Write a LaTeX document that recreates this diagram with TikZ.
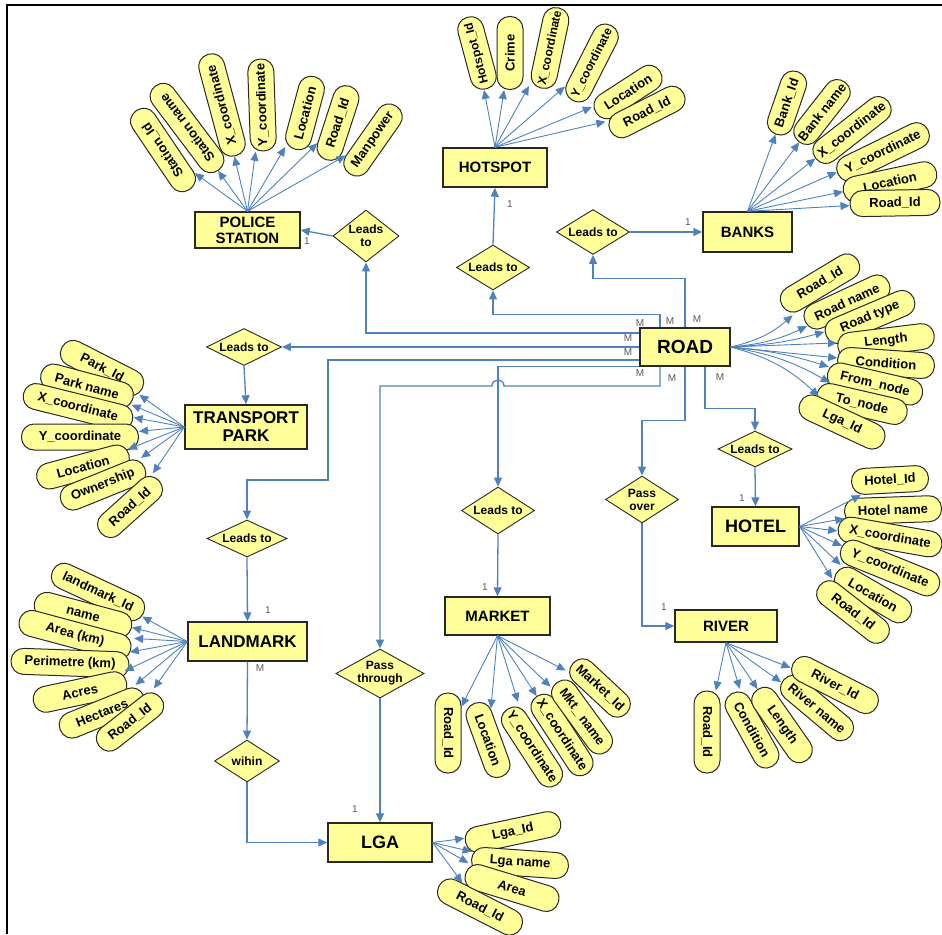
\documentclass[tikz,border=0pt]{standalone}
\usepackage{fontspec}
\setmainfont{Liberation Sans}
\usetikzlibrary{shapes.geometric,arrows.meta,calc}
\definecolor{ylw}{RGB}{255,255,153}
\definecolor{lnk}{RGB}{79,129,189}
\definecolor{bdr}{RGB}{40,40,40}
\begin{document}
\begin{tikzpicture}[x=1pt,y=-1pt,
 ent/.style={draw=bdr, fill=ylw, line width=1.4pt, inner sep=0pt, align=center, font=\bfseries\fontsize{16}{17}\selectfont},
 rel/.style={diamond, draw=bdr, fill=ylw, line width=0.9pt, inner sep=0pt, align=center, font=\bfseries\fontsize{12}{13}\selectfont},
 attr/.style={rectangle, rounded corners=12.5pt, draw=bdr, fill=ylw, line width=1pt, minimum height=26pt, inner xsep=2pt, inner ysep=0pt, font=\bfseries\fontsize{13}{14}\selectfont},
 sm/.style={font=\bfseries\fontsize{12}{13}\selectfont},
 conn/.style={draw=lnk, line width=1.3pt, -{Triangle[length=9pt,width=8pt]}},
 aconn/.style={draw=lnk, line width=0.9pt, -{Triangle[length=9pt,width=8pt]}},
 card/.style={text=black!65, font=\fontsize{10}{10}\selectfont, inner sep=0pt},
]
\useasboundingbox (0,0) rectangle (942,934);
\draw[line width=1.2pt] (7,934) -- (7,5) -- (942,5);

% entities
\node[ent, minimum width=90pt, minimum height=38pt, font=\bfseries\fontsize{19}{20}\selectfont] (road) at (685,347) {ROAD};
\node[ent, minimum width=105pt, minimum height=36pt, font=\bfseries\fontsize{15}{16}\selectfont] (ps) at (247.5,230) {POLICE\\STATION};
\node[ent, minimum width=104pt, minimum height=39pt, font=\bfseries\fontsize{15}{16}\selectfont] (hs) at (495,167.5) {HOTSPOT};
\node[ent, minimum width=89pt, minimum height=40pt, font=\bfseries\fontsize{15}{16}\selectfont] (bk) at (747.5,232) {BANKS};
\node[ent, minimum width=122pt, minimum height=44pt, font=\bfseries\fontsize{17}{18}\selectfont] (tp) at (246,427) {TRANSPORT\\PARK};
\node[ent, minimum width=119pt, minimum height=39pt, font=\bfseries\fontsize{17}{18}\selectfont] (lm) at (247.5,641.5) {LANDMARK};
\node[ent, minimum width=105pt, minimum height=38pt, font=\bfseries\fontsize{15}{16}\selectfont] (mk) at (497.5,616) {MARKET};
\node[ent, minimum width=102pt, minimum height=32pt, font=\bfseries\fontsize{15}{16}\selectfont] (rv) at (726,626) {RIVER};
\node[ent, minimum width=87pt, minimum height=39pt, font=\bfseries\fontsize{18}{19}\selectfont] (ht) at (755.5,526.5) {HOTEL};
\node[ent, minimum width=104pt, minimum height=39pt, font=\bfseries\fontsize{18}{19}\selectfont] (lga) at (380,842.5) {LGA};

% relationships
\node[rel, minimum width=66pt, minimum height=52pt, shape aspect=1.3] (dps) at (366,236) {Leads\\to};
\node[rel, minimum width=73pt, minimum height=45pt, shape aspect=2] (dhs) at (493,267.5) {Leads to};
\node[rel, minimum width=73pt, minimum height=45pt, shape aspect=2] (dbk) at (593,232) {Leads to};
\node[rel, minimum width=75pt, minimum height=37pt, shape aspect=2] (dtp) at (244,347) {Leads to};
\node[rel, minimum width=80pt, minimum height=37pt, shape aspect=2] (dlm) at (247,538.5) {Leads to};
\node[rel, minimum width=65pt, minimum height=42pt, shape aspect=1.5] (dwi) at (247,761) {wihin};
\node[rel, minimum width=87pt, minimum height=49pt, shape aspect=1.8] (dpt) at (380,673.5) {Pass\\through};
\node[rel, minimum width=73pt, minimum height=47pt, shape aspect=2] (dmk) at (498,510.5) {Leads to};
\node[rel, minimum width=73pt, minimum height=47pt, shape aspect=1.55] (dpo) at (642,499.5) {Pass\\over};
\node[rel, minimum width=74pt, minimum height=36pt, shape aspect=2] (dht) at (755,449) {Leads to};

% connectors from ROAD
\draw[conn] ([yshift=14pt]road.west) -| (dps.south);
\draw[conn] (dps.west) -- (ps.east);
\draw[conn] ([xshift=-25pt]road.north) -- ++(0,-13) -| (dhs.south);
\draw[conn] (dhs.north) -- (hs.south);
\draw[conn] (road.north) -- ++(0,-49) -| (dbk.south);
\draw[conn] (dbk.east) -- (bk.west);
\draw[conn] (road.west) -- (dtp.east);
\draw[conn] (dtp.south) -- (tp.north);
\draw[conn] ([yshift=-13pt]road.west) -| (328,480) -| (dlm.north);
\draw[conn] (dlm.south) -- (lm.north);
\draw[conn] (lm.south) -- (dwi.north);
\draw[conn] (dwi.south) |- (lga.west);
\draw[conn] (road.south west) -| (dmk.north);
\draw[conn] (dmk.south) -- (mk.north);
\draw[conn] ([xshift=-25pt]road.south) |- (504,386) .. controls (504,378) and (492,378) .. (492,386) -- (380,386) -- (dpt.north);
\draw[conn] (dpt.south) -- (lga.north);
\draw[conn] ([xshift=20pt]road.south) -- ++(0,42) -| (dht.north);
\draw[conn] (dht.south) -- (ht.north);
\draw[conn] (road.south) -- ++(0,54) -| (dpo.north);
\draw[conn] (dpo.south) |- (rv.west);

% cardinalities
\node[card] (c1) at (307,241) {1};
\node[card] (c2) at (510,204) {1};
\node[card] (c3) at (688,222) {1};
\node[card] (c4) at (268,610) {1};
\node[card] (c5) at (260,668) {M};
\node[card] (c6) at (485,587) {1};
\node[card] (c7) at (355,809) {1};
\node[card] (c8) at (742,498) {1};
\node[card] (c9) at (664,607) {1};
\node[card] (m1) at (640,323) {M};
\node[card] (m2) at (670,321) {M};
\node[card] (m3) at (697,319) {M};
\node[card] (m4) at (628,338) {M};
\node[card] (m5) at (628,352) {M};
\node[card] (m6) at (640,373) {M};
\node[card] (m7) at (672,378) {M};
\node[card] (m8) at (720,377) {M};

% police station attributes
\node[attr, minimum width=95pt, rotate=124] (ps1) at (163,150) {Station\_Id};
\node[attr, minimum width=105pt, rotate=127] (ps2) at (187,128) {Station name};
\node[attr, minimum width=105pt, rotate=105] (ps3) at (222,105) {X\_coordinate};
\node[attr, minimum width=92pt, rotate=92] (ps4) at (262,105) {Y\_coordinate};
\node[attr, minimum width=75pt, rotate=75] (ps5) at (305,113) {Location};
\node[attr, minimum width=77pt, rotate=72] (ps6) at (338,123) {Road\_Id};
\node[attr, minimum width=82pt, rotate=55] (ps7) at (373,140) {Manpower};
\foreach \i in {1,...,7} \draw[aconn] (ps.north) -- (ps\i);

% hotspot attributes
\node[attr, sm, minimum width=74pt, rotate=105] (hs1) at (477,53) {Hotspot\_Id};
\node[attr, minimum width=73pt, rotate=90] (hs2) at (510,53) {Crime};
\node[attr, sm, minimum width=82pt, rotate=78] (hs3) at (550,48) {X\_coordinate};
\node[attr, sm, minimum width=84pt, rotate=63] (hs4) at (592,63) {Y\_coordinate};
\node[attr, minimum width=76pt, rotate=33] (hs5) at (628,92) {Location};
\node[attr, minimum width=82pt, rotate=27] (hs6) at (647,112) {Road\_Id};
\foreach \i in {1,...,6} \draw[aconn] (hs.north) -- (hs\i);

% banks attributes
\node[attr, minimum width=66pt, rotate=71] (bk1) at (787,103) {Bank\_Id};
\node[attr, minimum width=75pt, rotate=52] (bk2) at (822,112) {Bank name};
\node[attr, minimum width=92pt, rotate=38] (bk3) at (852,130) {X\_coordinate};
\node[attr, minimum width=100pt, rotate=26] (bk4) at (883,152) {Y\_coordinate};
\node[attr, minimum width=95pt, rotate=12] (bk5) at (890,182) {Location};
\node[attr, minimum width=90pt, rotate=1] (bk6) at (895,203) {Road\_Id};
\foreach \i in {1,...,6} \draw[aconn] (bk.north) -- (bk\i);

% road attributes
\node[attr, minimum width=88pt, rotate=31] (r1) at (820,283) {Road\_Id};
\node[attr, minimum width=92pt, rotate=25] (r2) at (847,302) {Road name};
\node[attr, minimum width=95pt, rotate=23] (r3) at (870,317) {Road type};
\node[attr, minimum width=97pt, rotate=7] (r4) at (886,341) {Length};
\node[attr, minimum width=97pt, rotate=-4] (r5) at (886,363) {Condition};
\node[attr, minimum width=97pt, rotate=-13] (r6) at (875,384) {From\_node};
\node[attr, minimum width=92pt, rotate=-13] (r7) at (862,404) {To\_node};
\node[attr, minimum width=92pt, rotate=-25] (r8) at (842,422) {Lga\_Id};
\draw[aconn] (road.east) to[bend right=14] (r1);
\draw[aconn] (road.east) to[bend right=10] (r2);
\draw[aconn] (road.east) to[bend right=6] (r3);
\draw[aconn] (road.east) to (r4);
\draw[aconn] (road.east) to (r5);
\draw[aconn] (road.east) to[bend left=6] (r6);
\draw[aconn] (road.east) to[bend left=10] (r7);
\draw[aconn] (road.east) to[bend left=14] (r8);

% transport park attributes
\node[attr, minimum width=90pt, rotate=-27] (tp1) at (102,368) {Park\_Id};
\node[attr, minimum width=95pt, rotate=-15] (tp2) at (87,386) {Park name};
\node[attr, minimum width=112pt, rotate=-14] (tp3) at (78,407) {X\_coordinate};
\node[attr, minimum width=117pt, rotate=0] (tp4) at (80,437) {Y\_coordinate};
\node[attr, minimum width=95pt, rotate=15] (tp5) at (83,467) {Location};
\node[attr, minimum width=90pt, rotate=22] (tp6) at (103,485) {Ownership};
\node[attr, minimum width=78pt, rotate=42] (tp7) at (130,507) {Road\_Id};
\foreach \i in {1,...,7} \draw[aconn] (tp.west) -- (tp\i);

% landmark attributes
\node[attr, minimum width=100pt, rotate=-25] (lm1) at (98,592) {landmark\_Id};
\node[attr, minimum width=100pt, rotate=-15] (lm2) at (83,615) {name};
\node[attr, minimum width=115pt, rotate=-15] (lm3) at (75,635) {Area (km)};
\node[attr, minimum width=118pt, rotate=-2] (lm4) at (70,663) {Perimetre (km)};
\node[attr, minimum width=95pt, rotate=12] (lm5) at (80,692) {Acres};
\node[attr, minimum width=90pt, rotate=22] (lm6) at (102,713) {Hectares};
\node[attr, minimum width=78pt, rotate=38] (lm7) at (130,722) {Road\_Id};
\foreach \i in {1,...,7} \draw[aconn] (lm.west) -- (lm\i);

% market attributes
\node[attr, minimum width=80pt, rotate=-90] (mk1) at (448,733) {Road\_Id};
\node[attr, minimum width=78pt, rotate=-70] (mk2) at (488,740) {Location};
\node[attr, minimum width=90pt, rotate=-57] (mk3) at (532,747) {Y\_coordinate};
\node[attr, minimum width=92pt, rotate=-57] (mk4) at (562,735) {X\_coordinate};
\node[attr, minimum width=85pt, rotate=-54] (mk5) at (582,717) {Mkt\_ name};
\node[attr, minimum width=73pt, rotate=-43] (mk6) at (600,688) {Market\_Id};
\foreach \i in {1,...,6} \draw[aconn] (mk.south) -- (mk\i);

% river attributes
\node[attr, minimum width=82pt, rotate=-90] (rv1) at (707,732) {Road\_Id};
\node[attr, minimum width=83pt, rotate=-61] (rv2) at (752,730) {Condition};
\node[attr, minimum width=86pt, rotate=-55] (rv3) at (782,725) {Length};
\node[attr, minimum width=87pt, rotate=-40] (rv4) at (817,708) {River name};
\node[attr, minimum width=94pt, rotate=-27] (rv5) at (835,685) {River\_Id};
\foreach \i in {1,...,5} \draw[aconn] (rv.south) -- (rv\i);

% hotel attributes
\node[attr, minimum width=77pt, rotate=3] (ht1) at (890,480) {Hotel\_Id};
\node[attr, minimum width=97pt, rotate=2] (ht2) at (893,510) {Hotel name};
\node[attr, minimum width=105pt, rotate=-10] (ht3) at (890,537) {X\_coordinate};
\node[attr, minimum width=105pt, rotate=-22] (ht4) at (890,568) {Y\_coordinate};
\node[attr, minimum width=85pt, rotate=-30] (ht5) at (873,595) {Location};
\node[attr, minimum width=85pt, rotate=-38] (ht6) at (853,612) {Road\_Id};
\foreach \i in {1,...,6} \draw[aconn] (ht.east) -- (ht\i);

% LGA attributes
\node[attr, minimum width=97pt, rotate=12] (lg1) at (513,832) {Lga\_Id};
\node[attr, minimum width=97pt, rotate=-4] (lg2) at (520,863) {Lga name};
\node[attr, minimum width=97pt, rotate=-17] (lg3) at (512,888) {Area};
\node[attr, minimum width=92pt, rotate=-27] (lg4) at (480,907) {Road\_Id};
\foreach \i in {1,...,4} \draw[aconn] (lga.east) -- (lg\i);
\end{tikzpicture}
\end{document}
